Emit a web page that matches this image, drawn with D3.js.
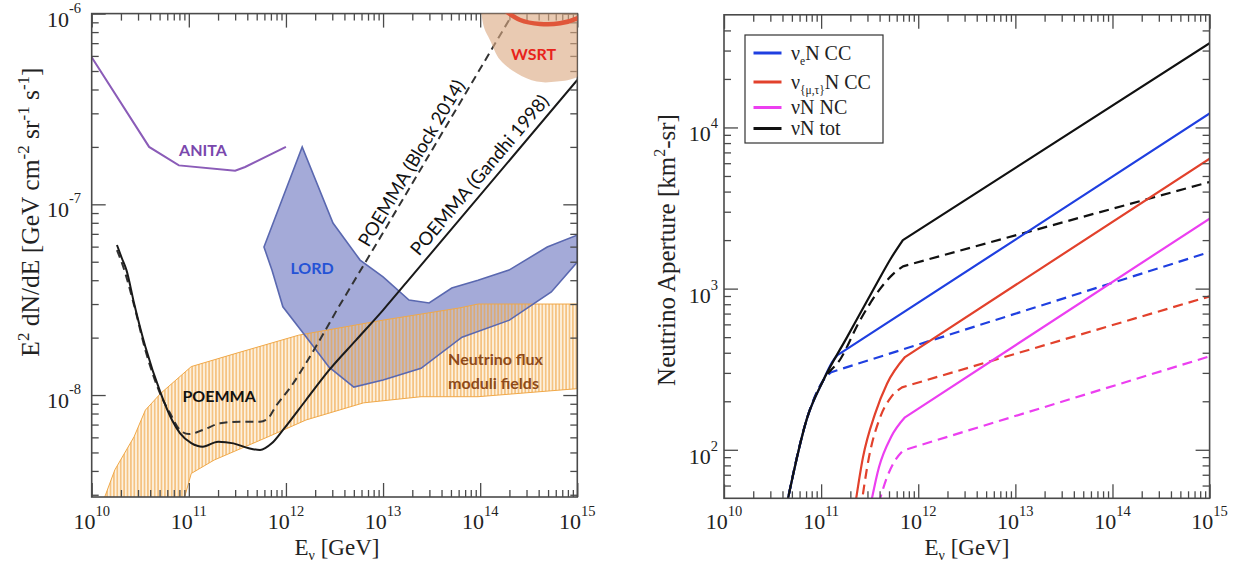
<!DOCTYPE html>
<html>
<head>
<meta charset="utf-8">
<script src="https://cdn.jsdelivr.net/npm/d3@7/dist/d3.min.js"></script>
<style>
html,body{margin:0;padding:0;background:#fff;}
svg{display:block;}
</style>
</head>
<body>
<svg id="chart" width="1242" height="567"></svg>
<script>
// ================= DATA =================
const xDecades = [1e10, 1e11, 1e12, 1e13, 1e14, 1e15];
const xTickExp = ["10", "11", "12", "13", "14", "15"];
const leftYDecades = [1e-8, 1e-7, 1e-6];
const leftYTickExp = ["-8", "-7", "-6"];
const rightYDecades = [1e2, 1e3, 1e4];
const rightYTickExp = ["2", "3", "4"];

// ---- Left panel: E (GeV) and E^2 dN/dE (GeV cm^-2 sr^-1 s^-1) ----
const anitaE = [1e10, 3.9e10, 7.9e10, 3.0e11, 3.8e11, 1e12];
const anitaF = [5.9e-7, 2.0e-7, 1.6e-7, 1.5e-7, 1.57e-7, 2.0e-7];

const lordUpperE = [5.94e11, 1.47e12, 3.05e12, 5.8e12, 1.0e13, 1.85e13, 2.98e13, 5.1e13, 9.5e13, 1.98e14, 4.9e14, 1e15];
const lordUpperF = [5.97e-8, 2.0e-7, 7.98e-8, 5.1e-8, 4.16e-8, 3.15e-8, 3.04e-8, 3.64e-8, 4.0e-8, 4.52e-8, 5.97e-8, 6.9e-8];
const lordLowerE = [1e15, 5.4e14, 2e14, 6.5e13, 2.46e13, 1e13, 5e12, 2.78e12, 1.61e12, 9.3e11, 7.2e11];
const lordLowerF = [4.98e-8, 3.47e-8, 2.47e-8, 2.01e-8, 1.38e-8, 1.2e-8, 1.1e-8, 1.4e-8, 2.02e-8, 2.9e-8, 4.5e-8];

const bandUpperE = [1.25e10, 1.73e10, 2.73e10, 3.57e10, 5.13e10, 1.06e11, 3.13e11, 1.35e12, 1e13, 6.07e13, 9.5e13, 1e15];
const bandUpperF = [2.6e-9, 4.05e-9, 6.04e-9, 8.34e-9, 1.02e-8, 1.41e-8, 1.66e-8, 2.06e-8, 2.47e-8, 2.86e-8, 3.0e-8, 3.0e-8];
const bandLowerE = [1e15, 9.5e13, 2.46e13, 6.3e12, 1.61e12, 6.55e11, 1.82e11, 1.06e11, 8.5e10];
const bandLowerF = [1.08e-8, 9.8e-9, 9.8e-9, 9.1e-9, 7.4e-9, 6.04e-9, 4.56e-9, 3.88e-9, 2.6e-9];

const gandhiE = [1.82e10, 2.04e10, 2.28e10, 2.73e10, 3.57e10, 5.14e10, 6.71e10, 8.1e10, 1.06e11, 1.39e11, 2.0e11, 2.88e11, 4.15e11, 5.41e11, 7.14e11, 9.33e11, 1.61e12, 2.78e12, 5.27e12, 1e13, 1.71e13, 1e15];
const gandhiF = [6.12e-8, 5.23e-8, 4.52e-8, 3.03e-8, 1.79e-8, 1.02e-8, 7.4e-9, 6.32e-9, 5.6e-9, 5.36e-9, 5.69e-9, 5.58e-9, 5.26e-9, 5.15e-9, 5.58e-9, 6.56e-9, 9.42e-9, 1.35e-8, 1.94e-8, 2.79e-8, 3.85e-8, 4.49e-7];

const blockE = [1.82e10, 2.11e10, 2.73e10, 3.57e10, 5.14e10, 6.4e10, 8.1e10, 1.0e11, 1.4e11, 2.1e11, 3.36e11, 5.41e11, 6.55e11, 7.82e11, 1.13e12, 1.61e12, 2.33e12, 3.34e12, 1e13, 2.17e14];
const blockF = [5.75e-8, 4.71e-8, 2.96e-8, 1.72e-8, 1.0e-8, 8.05e-9, 6.56e-9, 6.24e-9, 6.56e-9, 7.11e-9, 7.25e-9, 7.25e-9, 7.55e-9, 8.69e-9, 1.11e-8, 1.47e-8, 2.02e-8, 2.79e-8, 7.1e-8, 1e-6];

const wsrtE = [1e14, 1.1e14, 1.26e14, 1.6e14, 2.38e14, 3.83e14, 6.15e14, 1e15, 1.3e15];
const wsrtF = [1.1e-6, 8.4e-7, 7.27e-7, 5.72e-7, 4.87e-7, 4.4e-7, 4.4e-7, 4.67e-7, 5.5e-7];
const wsrtArcE = [1.75e14, 2.58e14, 4.14e14, 6.65e14, 1e15, 1.2e15];
const wsrtArcF = [1.05e-6, 9.26e-7, 8.82e-7, 8.89e-7, 9.45e-7, 1.0e-6];

// ---- Right panel: E (GeV) and aperture (km^2 sr) ----
const totE   = [4.3e10, 7.21e10, 1.05e11, 1.85e11, 3.59e11, 5.3e11, 6.95e11, 1e15];
const totF   = [42, 159, 269, 500, 1030, 1560, 2000, 3.33e4];
const totDE  = [4.3e10, 7.21e10, 1.05e11, 1.6e11, 2.46e11, 3.94e11, 5.5e11, 6.97e11, 1e15];
const totDF  = [42, 159, 269, 370, 620, 975, 1230, 1375, 4590];
const eccE   = [4.3e10, 7.21e10, 1.05e11, 1.3e11, 1.46e11, 1e15];
const eccF   = [42, 159, 269, 350, 385, 1.22e4];
const eccDE  = [4.3e10, 7.21e10, 1.05e11, 1.27e11, 1e15];
const eccDF  = [42, 159, 269, 303, 1687];
const mtE    = [2.2e11, 2.7e11, 3.59e11, 4.77e11, 7.3e11, 1e15];
const mtF    = [42, 90, 167, 257, 376, 6410];
const mtDE   = [2.55e11, 3.11e11, 3.94e11, 5.25e11, 6.81e11, 1e15];
const mtDF   = [42, 90, 152, 212, 244, 895];
const ncE    = [3.15e11, 3.94e11, 5.25e11, 7.3e11, 1e15];
const ncF    = [42, 78, 120, 159, 2720];
const ncDE   = [3.9e11, 4.77e11, 5.77e11, 6.97e11, 1e15];
const ncDF   = [46, 67.6, 85.8, 99, 380];

const legendLabels = [["ν", "e", "N CC"], ["ν", "{μ,τ}", "N CC"], ["νN NC", "", ""], ["νN tot", "", ""]];

// ================= STYLE =================
const BLUE = "#1f3fe0", RED = "#e2412c", MAG = "#ec3ff0", BLK = "#111";
const AX = "#4a4a4a";
const SERIF = "'Liberation Serif','Times New Roman',serif";
const SANS = "Lato,'Open Sans',sans-serif";

const zip = (a, b) => a.map((v, i) => [v, b[i]]);
const svg = d3.select("#chart");
const defs = svg.append("defs");

const xL = d3.scaleLog().domain([1e10, 1e15]).range([91.7, 577.3]);
const yL = d3.scaleLog().domain([2.92e-9, 1e-6]).range([497, 13.6]);
const xR = d3.scaleLog().domain([1e10, 1e15]).range([724, 1209.6]);
const yR = d3.scaleLog().domain([50, 5e4]).range([498.3, 14.8]);

function clip(id, x, y) {
  defs.append("clipPath").attr("id", id).append("rect")
    .attr("x", x.range()[0]).attr("y", y.range()[1])
    .attr("width", x.range()[1] - x.range()[0]).attr("height", y.range()[0] - y.range()[1]);
}
clip("clipL", xL, yL);
clip("clipR", xR, yR);

// hatch pattern
const pat = defs.append("pattern").attr("id", "hatch").attr("patternUnits", "userSpaceOnUse")
  .attr("width", 3.4).attr("height", 10);
pat.append("rect").attr("width", 3.4).attr("height", 10).attr("fill", "rgba(250,214,160,0.35)");
pat.append("line").attr("x1", 1.7).attr("x2", 1.7).attr("y1", 0).attr("y2", 10)
  .attr("stroke", "rgba(238,158,56,0.85)").attr("stroke-width", 1.1);

function minorTicks(lo, hi) {
  const out = [];
  for (let e = Math.floor(Math.log10(lo)); e <= Math.ceil(Math.log10(hi)); e++)
    for (let k = 2; k <= 9; k++) { const v = k * Math.pow(10, e); if (v > lo * 1.001 && v < hi * 0.999) out.push(v); }
  return out;
}

function axes(g, x, y, yMajors) {
  const [x0, x1] = x.range(), [y0, y1] = y.range();
  const xMin = minorTicks(x.domain()[0], x.domain()[1]);
  const yMin = minorTicks(y.domain()[0], y.domain()[1]);
  const add = (axis, tx, ty) => {
    const a = g.append("g").attr("transform", `translate(${tx},${ty})`).call(axis);
    a.select(".domain").remove();
    a.selectAll("line").attr("stroke", AX).attr("stroke-width", 1.3);
    a.selectAll("text").remove();
  };
  add(d3.axisBottom(x).tickValues(xMin).tickSize(-7).tickFormat(""), 0, y0);
  add(d3.axisBottom(x).tickValues(xDecades).tickSize(-14).tickFormat(""), 0, y0);
  add(d3.axisTop(x).tickValues(xMin).tickSize(-7).tickFormat(""), 0, y1);
  add(d3.axisTop(x).tickValues(xDecades).tickSize(-14).tickFormat(""), 0, y1);
  add(d3.axisLeft(y).tickValues(yMin).tickSize(-7).tickFormat(""), x0, 0);
  add(d3.axisLeft(y).tickValues(yMajors).tickSize(-14).tickFormat(""), x0, 0);
  add(d3.axisRight(y).tickValues(yMin).tickSize(-7).tickFormat(""), x1, 0);
  add(d3.axisRight(y).tickValues(yMajors).tickSize(-14).tickFormat(""), x1, 0);
  g.append("rect").attr("x", x0).attr("y", y1).attr("width", x1 - x0).attr("height", y0 - y1)
    .attr("fill", "none").attr("stroke", AX).attr("stroke-width", 1.6);
}

function xLabels(g, x, baseY) {
  xDecades.forEach((v, i) => {
    const t = g.append("text").attr("x", x(v)).attr("y", baseY).attr("text-anchor", "middle")
      .attr("font-family", SERIF).attr("fill", "#222");
    t.append("tspan").attr("font-size", 22).text("10");
    t.append("tspan").attr("font-size", 14.5).attr("dy", -13).text(xTickExp[i]);
  });
}
function yLabels(g, y, vals, exps, endX, baseOff, supDy) {
  vals.forEach((v, i) => {
    const t = g.append("text").attr("x", endX).attr("y", y(v) + baseOff).attr("text-anchor", "end")
      .attr("font-family", SERIF).attr("fill", "#222");
    t.append("tspan").attr("font-size", 22).text("10");
    t.append("tspan").attr("font-size", 14.5).attr("dy", supDy).text(exps[i]);
  });
}

// draws a curve that is smooth up to index k and straight after it
function splitPath(parent, x, y, pts, k) {
  const smooth = d3.line().x(d => x(d[0])).y(d => y(d[1])).curve(d3.curveMonotoneX);
  const straight = d3.line().x(d => x(d[0])).y(d => y(d[1])).curve(d3.curveLinear);
  const d = smooth(pts.slice(0, k + 1)) + straight(pts.slice(k)).replace(/^M/, "L");
  return parent.append("path").attr("d", d).attr("fill", "none").attr("stroke-linejoin", "round");
}

// ================= LEFT PANEL =================
const gL = svg.append("g");
const plotL = gL.append("g").attr("clip-path", "url(#clipL)");
const lineL = d3.line().x(d => xL(d[0])).y(d => yL(d[1]));

const lordPts = zip(lordUpperE, lordUpperF).concat(zip(lordLowerE, lordLowerF));
plotL.append("path").attr("d", lineL(lordPts) + "Z").attr("fill", "#a4aad8").attr("stroke", "none");

const bandPts = zip(bandUpperE, bandUpperF).concat(zip(bandLowerE, bandLowerF));
plotL.append("path").attr("d", lineL(bandPts) + "Z").attr("fill", "url(#hatch)")
  .attr("stroke", "#f0a848").attr("stroke-width", 1);

plotL.append("path").attr("d", lineL(lordPts) + "Z").attr("fill", "none")
  .attr("stroke", "#5a68b0").attr("stroke-width", 1.6);

plotL.append("path").attr("d", lineL(zip(anitaE, anitaF))).attr("fill", "none")
  .attr("stroke", "#8b5cb8").attr("stroke-width", 2);

splitPath(plotL, xL, yL, zip(blockE, blockF), blockE.length - 3)
  .attr("stroke", "#333").attr("stroke-width", 2).attr("stroke-dasharray", "8,5");
splitPath(plotL, xL, yL, zip(gandhiE, gandhiF), gandhiE.length - 2)
  .attr("stroke", "#1a1a1a").attr("stroke-width", 2);

axes(gL, xL, yL, leftYDecades);

// WSRT region (drawn over the frame, semi-transparent)
const wsrtG = gL.append("g").attr("clip-path", "url(#clipL)");
const curveL = d3.line().x(d => xL(d[0])).y(d => yL(d[1])).curve(d3.curveCatmullRom);
const wPts = zip(wsrtE, wsrtF);
wsrtG.append("path")
  .attr("d", curveL(wPts) + `L${xL(1.3e15)},${yL(1.3e-6)}L${xL(1e14)},${yL(1.3e-6)}Z`)
  .attr("fill", "#dcaa82").attr("fill-opacity", 0.62);
wsrtG.append("path").attr("d", curveL(zip(wsrtArcE, wsrtArcF))).attr("fill", "none")
  .attr("stroke", "#e0563a").attr("stroke-width", 4.5);

// labels
function lab(g, x, y, txt, color, size, weight, anchor) {
  return g.append("text").attr("x", x).attr("y", y).attr("text-anchor", anchor || "middle")
    .attr("dominant-baseline", "central").attr("font-family", SANS).attr("font-size", size)
    .attr("font-weight", weight).attr("fill", color).text(txt);
}
lab(gL, xL(1.4e11), yL(1.93e-7), "ANITA", "#7a48ad", 16, 700);
lab(gL, xL(1.86e12), yL(4.69e-8), "LORD", "#2453d6", 16, 700);
lab(gL, xL(2.05e11), yL(1.0e-8), "POEMMA", "#111", 16, 700);
lab(gL, xL(4.67e13), yL(1.56e-8), "Neutrino flux", "#8e4a18", 16, 700, "start");
lab(gL, xL(4.67e13), yL(1.16e-8), "moduli fields", "#8e4a18", 16, 700, "start");
lab(gL, xL(3.55e14), yL(6.2e-7), "WSRT", "#e8231b", 16, 700);

function angleOf(x, y, a, b) {
  return Math.atan2(y(b[1]) - y(a[1]), x(b[0]) - x(a[0])) * 180 / Math.PI;
}
const angB = angleOf(xL, yL, [3.34e12, 2.79e-8], [2.17e14, 1e-6]);
const angG = angleOf(xL, yL, [1.71e13, 3.85e-8], [1e15, 4.49e-7]);
gL.append("text").attr("transform", `translate(${xL(1.94e13)},${yL(1.65e-7)}) rotate(${angB})`)
  .attr("text-anchor", "middle").attr("dominant-baseline", "central")
  .attr("font-family", SANS).attr("font-size", 18.5).attr("fill", "#111").text("POEMMA (Block 2014)");
gL.append("text").attr("transform", `translate(${xL(9.75e13)},${yL(1.43e-7)}) rotate(${angG})`)
  .attr("text-anchor", "middle").attr("dominant-baseline", "central")
  .attr("font-family", SANS).attr("font-size", 18.5).attr("fill", "#111").text("POEMMA (Gandhi 1998)");

xLabels(gL, xL, 529);
yLabels(gL, yL, leftYDecades, leftYTickExp, 81, 13, -14);

// axis titles
const xt1 = gL.append("text").attr("x", 337).attr("y", 555).attr("text-anchor", "middle")
  .attr("font-family", SERIF).attr("font-size", 23).attr("fill", "#222");
xt1.append("tspan").text("E");
xt1.append("tspan").attr("font-size", 14).attr("dy", 5).text("ν");
xt1.append("tspan").attr("dy", -5).text(" [GeV]");

const yt1 = gL.append("text").attr("transform", "translate(39,212) rotate(-90)").attr("text-anchor", "middle")
  .attr("font-family", SERIF).attr("font-size", 25.5).attr("fill", "#222");
[["E", 0], ["2", 1], [" dN/dE [GeV cm", 0], ["-2", 1], [" sr", 0], ["-1", 1], [" s", 0], ["-1", 1], ["]", 0]]
  .forEach((p, i, arr) => {
    const prevSup = i > 0 && arr[i - 1][1] === 1;
    const ts = yt1.append("tspan").text(p[0]);
    if (p[1] === 1) ts.attr("font-size", 17).attr("dy", -10);
    else if (prevSup) ts.attr("dy", 10);
  });

// ================= RIGHT PANEL =================
const gR = svg.append("g");
const plotR = gR.append("g").attr("clip-path", "url(#clipR)");
const series = [
  [eccDE, eccDF, BLUE, true], [mtDE, mtDF, RED, true], [ncDE, ncDF, MAG, true], [totDE, totDF, BLK, true],
  [ncE, ncF, MAG, false], [mtE, mtF, RED, false], [eccE, eccF, BLUE, false], [totE, totF, BLK, false]
];
series.forEach(s => {
  const p = splitPath(plotR, xR, yR, zip(s[0], s[1]), s[0].length - 2)
    .attr("stroke", s[2]).attr("stroke-width", 2.2);
  if (s[3]) p.attr("stroke-dasharray", "10,6");
});

axes(gR, xR, yR, rightYDecades);
xLabels(gR, xR, 529);
yLabels(gR, yR, rightYDecades, rightYTickExp, 718, 14, -13);

// legend
const lg = gR.append("g");
lg.append("rect").attr("x", 745).attr("y", 35).attr("width", 138).attr("height", 108)
  .attr("fill", "#fff").attr("stroke", "#333").attr("stroke-width", 1.2);
const legColors = [BLUE, RED, MAG, BLK];
const legY = [53, 82, 107.5, 128.5];
legendLabels.forEach((l, i) => {
  lg.append("line").attr("x1", 753.5).attr("x2", 781.5).attr("y1", legY[i]).attr("y2", legY[i])
    .attr("stroke", legColors[i]).attr("stroke-width", 3);
  const t = lg.append("text").attr("x", 791).attr("y", legY[i] + 6.5).attr("font-family", SERIF)
    .attr("font-size", 20).attr("fill", "#222");
  t.append("tspan").text(l[0]);
  if (l[1]) {
    t.append("tspan").attr("font-size", 11.5).attr("dy", 5).text(l[1]);
    t.append("tspan").attr("dy", -5).text(l[2]);
  }
});

const xt2 = gR.append("text").attr("x", 967).attr("y", 555).attr("text-anchor", "middle")
  .attr("font-family", SERIF).attr("font-size", 23).attr("fill", "#222");
xt2.append("tspan").text("E");
xt2.append("tspan").attr("font-size", 14).attr("dy", 5).text("ν");
xt2.append("tspan").attr("dy", -5).text(" [GeV]");

const yt2 = gR.append("text").attr("transform", "translate(675,250) rotate(-90)").attr("text-anchor", "middle")
  .attr("font-family", SERIF).attr("font-size", 25).attr("fill", "#222");
yt2.append("tspan").text("Neutrino Aperture [km");
yt2.append("tspan").attr("font-size", 16).attr("dy", -10).text("2");
yt2.append("tspan").attr("dy", 10).text("-sr]");
</script>
</body>
</html>
